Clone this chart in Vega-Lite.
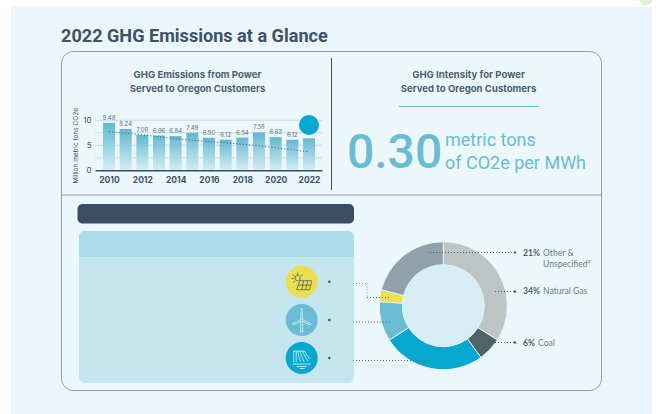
{
"$schema":"https://vega.github.io/schema/vega-lite/v6.json",
"width":656,"height":414,"padding":0,"autosize":"none","background":"#ffffff",
"config":{"view":{"stroke":null},"font":"Inter"},
"datasets":{
"one":[{"note":"decor"}],
"emissions":[
{"year":2010,"mt":9.48,"trend":7.74},{"year":2011,"mt":8.24,"trend":7.4},{"year":2012,"mt":7.08,"trend":7.1},{"year":2013,"mt":6.96,"trend":6.7},{"year":2014,"mt":6.84,"trend":6.3},{"year":2015,"mt":7.49,"trend":6.0},{"year":2016,"mt":6.5,"trend":5.75},{"year":2017,"mt":6.12,"trend":5.5},{"year":2018,"mt":6.54,"trend":5.2},{"year":2019,"mt":7.58,"trend":4.9},{"year":2020,"mt":6.63,"trend":4.5},{"year":2021,"mt":6.12,"trend":4.1},{"year":2022,"mt":6.4,"trend":3.7}],
"grid":[{"g":2.5},{"g":5},{"g":7.5},{"g":10}],
"mix":[
{"source":"Natural Gas","pct":34,"o":1},{"source":"Coal","pct":6,"o":2},{"source":"Hydro","pct":26,"o":3},{"source":"Wind","pct":10,"o":4},{"source":"Solar","pct":3,"o":5},{"source":"Other & Unspecified","pct":21,"o":6}]
},
"data":{"name":"one"},
"resolve":{"scale":{"x":"independent","y":"independent","theta":"independent","color":"independent"}},
"layer":[
{"mark":{"type":"arc","radius":6.5,"theta":0,"theta2":6.2832,"x":646,"y":-1,"fill":"#e4f0d2"},"encoding":{}},
{"mark":{"type":"rect","x":11,"x2":652,"y":7,"y2":414,"fill":"#eaf6fc"},"encoding":{}},
{"mark":{"type":"rect","x":61.5,"x2":601.5,"y":51.5,"y2":390.5,"fill":"#ecf7fc","stroke":"#8d9fab","strokeWidth":1,"cornerRadius":12},"encoding":{}},
{"mark":{"type":"rule","stroke":"#8d9fab","strokeWidth":1},"encoding":{"x":{"value":61.5},"x2":{"value":601.5},"y":{"value":195},"y2":{"value":195}}},
{"mark":{"type":"rule","stroke":"#3d5266","strokeWidth":1},"encoding":{"x":{"value":331.5},"x2":{"value":331.5},"y":{"value":58},"y2":{"value":190}}},
{"mark":{"type":"text","x":61,"y":37,"text":"2022 GHG Emissions at a Glance","align":"left","baseline":"middle","fontSize":18.1,"fontWeight":700,"fill":"#3d5266","font":"Roboto"},"encoding":{}},
{"mark":{"type":"text","x":197.5,"y":75,"text":"GHG Emissions from Power","align":"center","baseline":"middle","fontSize":9.6,"fontWeight":700,"fill":"#4a5f72"},"encoding":{}},
{"mark":{"type":"text","x":197.5,"y":89,"text":"Served to Oregon Customers","align":"center","baseline":"middle","fontSize":9.6,"fontWeight":700,"fill":"#4a5f72"},"encoding":{}},
{"mark":{"type":"text","x":468.5,"y":75,"text":"GHG Intensity for Power","align":"center","baseline":"middle","fontSize":9.6,"fontWeight":700,"fill":"#4a5f72"},"encoding":{}},
{"mark":{"type":"text","x":468.5,"y":89,"text":"Served to Oregon Customers","align":"center","baseline":"middle","fontSize":9.6,"fontWeight":700,"fill":"#4a5f72"},"encoding":{}},
{"mark":{"type":"rule","stroke":"#68bdd5","strokeWidth":1},"encoding":{"x":{"value":399},"x2":{"value":539},"y":{"value":106.5},"y2":{"value":106.5}}},
{"mark":{"type":"text","x":347,"y":168,"text":"0.30","align":"left","baseline":"alphabetic","fontSize":48,"fontWeight":500,"fill":"#68bdd5","font":"Roboto"},"encoding":{}},
{"mark":{"type":"text","x":445,"y":146,"text":"metric tons","align":"left","baseline":"alphabetic","fontSize":18,"fontWeight":400,"fill":"#68bdd5","font":"Roboto"},"encoding":{}},
{"mark":{"type":"text","x":445,"y":169,"text":"of CO2e per MWh","align":"left","baseline":"alphabetic","fontSize":18,"fontWeight":400,"fill":"#68bdd5","font":"Roboto"},"encoding":{}},
{"mark":{"type":"rect","x":77.5,"x2":354,"y":204,"y2":223.5,"fill":"#3a4f63","cornerRadius":5},"encoding":{}},
{"mark":{"type":"rect","x":79,"x2":354,"y":231,"y2":383,"fill":"#c5e6ef","cornerRadius":6},"encoding":{}},
{"mark":{"type":"rect","x":79,"x2":354,"y":231,"y2":257,"fill":"#abdbe8","cornerRadiusTopLeft":6,"cornerRadiusTopRight":6},"encoding":{}},
{"data":{"name":"grid"},"mark":{"type":"rule","stroke":"#c6dde6","strokeWidth":1},
  "encoding":{
   "y":{"field":"g","type":"quantitative","scale":{"domain":[0,10],"range":[170.3,120.3]},"axis":null},
   "x":{"datum":2009.16,"type":"quantitative","scale":{"domain":[2009.16,2022.78],"range":[95,322],"nice":false,"zero":false},"axis":null},
   "x2":{"datum":2022.78}}},
{"data":{"name":"emissions"},
 "encoding":{
   "x":{"field":"year","type":"quantitative","scale":{"domain":[2009.16,2022.78],"range":[95,322],"nice":false,"zero":false,"padding":0},
     "axis":{"orient":"bottom","offset":-243.7,"zindex":1,"title":null,"values":[2010,2012,2014,2016,2018,2020,2022],"format":"d","grid":false,"ticks":false,"labelFontSize":8.5,"labelFontWeight":700,"labelColor":"#3d5266","labelPadding":5,"labelFont":"Inter","domainColor":"#3a4f63","domainWidth":1.5,"labelFlush":false,"labelOverlap":false}},
   "y":{"field":"mt","type":"quantitative","scale":{"domain":[0,10],"range":[170.3,120.3]},
     "axis":{"orient":"left","offset":-95,"zindex":1,"title":"Million metric tons CO2e","titleFontSize":6.5,"titleFontWeight":400,"titleColor":"#3d5266","titleFont":"Inter","titlePadding":4,"values":[0,5,10],"grid":false,"ticks":false,"domain":false,"labelFontSize":8,"labelColor":"#3d5266","labelPadding":4,"labelFont":"Inter"}}},
 "layer":[
 {"mark":{"type":"bar","width":12,"fill":{"x1":0,"y1":0,"x2":0,"y2":1,"gradient":"linear","stops":[{"offset":0,"color":"#62b8d0"},{"offset":1,"color":"#d6edf4"}]}}},
 {"transform":[{"filter":"datum.year < 2022"}],"mark":{"type":"text","baseline":"bottom","dy":-2,"fontSize":6,"fill":"#5c7080","font":"Inter"},
  "encoding":{"text":{"field":"mt","type":"quantitative","format":".2f"}}},
 {"mark":{"type":"line","stroke":"#3d5266","strokeWidth":1,"strokeDash":[1,2.2]},
  "encoding":{"y":{"field":"trend","type":"quantitative","scale":{"domain":[0,10],"range":[170.3,120.3]},
     "axis":{"orient":"left","offset":-95,"zindex":1,"title":"Million metric tons CO2e","titleFontSize":6.5,"titleFontWeight":400,"titleColor":"#3d5266","titleFont":"Inter","titlePadding":4,"values":[0,5,10],"grid":false,"ticks":false,"domain":false,"labelFontSize":8,"labelColor":"#3d5266","labelPadding":4,"labelFont":"Inter"}}}}
]},
{"mark":{"type":"arc","radius":10,"theta":0,"theta2":6.2832,"x":309,"y":125,"fill":"#06a8cf"},"encoding":{}},
{"data":{"name":"mix"},"mark":{"type":"arc","radius":64,"radius2":41,"x":443.3,"y":305.7,"stroke":"#e6f5fa","strokeWidth":1},
 "encoding":{
  "theta":{"field":"pct","type":"quantitative","stack":true},
  "order":{"field":"o","type":"quantitative"},
  "color":{"field":"source","type":"nominal","legend":null,"scale":{"domain":["Natural Gas","Coal","Hydro","Wind","Solar","Other & Unspecified"],"range":["#bcc5c3","#4d6469","#06a8cf","#68bdd5","#ecdf4d","#8fa2aa"]}}}},
{"mark":{"type":"arc","radius":41,"theta":0,"theta2":6.2832,"x":443.3,"y":305.7,"fill":"#d8eef5"},"encoding":{}},
{"mark":{"type":"rule","stroke":"#4d6070","strokeDash":[1,2]},"encoding":{"x":{"value":430},"x2":{"value":515},"y":{"value":252.5},"y2":{"value":252.5}}},
{"mark":{"type":"rule","stroke":"#4d6070","strokeDash":[1,2]},"encoding":{"x":{"value":495},"x2":{"value":515},"y":{"value":291.5},"y2":{"value":291.5}}},
{"mark":{"type":"rule","stroke":"#4d6070","strokeDash":[1,2]},"encoding":{"x":{"value":495},"x2":{"value":515},"y":{"value":342.5},"y2":{"value":342.5}}},
{"mark":{"type":"rule","stroke":"#7f919c","strokeDash":[1,2]},"encoding":{"x":{"value":353},"x2":{"value":367},"y":{"value":283.5},"y2":{"value":283.5}}},
{"mark":{"type":"rule","stroke":"#7f919c","strokeDash":[1,2]},"encoding":{"x":{"value":367},"x2":{"value":367},"y":{"value":283.5},"y2":{"value":297.5}}},
{"mark":{"type":"rule","stroke":"#5c6f7e","strokeDash":[1,2]},"encoding":{"x":{"value":367},"x2":{"value":390},"y":{"value":297.5},"y2":{"value":297.5}}},
{"mark":{"type":"rule","stroke":"#5c6f7e","strokeDash":[1,2]},"encoding":{"x":{"value":353},"x2":{"value":390},"y":{"value":322},"y2":{"value":322}}},
{"mark":{"type":"rule","stroke":"#5c6f7e","strokeDash":[1,2]},"encoding":{"x":{"value":353},"x2":{"value":430},"y":{"value":360.5},"y2":{"value":360.5}}},
{"mark":{"type":"point","shape":"M0,-1.5 L1.5,1.5 L-1.5,1.5 Z","size":4,"x":515,"y":252,"fill":"#3d5266","filled":true,"opacity":1},"encoding":{}},
{"mark":{"type":"point","shape":"M0,-1.5 L1.5,1.5 L-1.5,1.5 Z","size":4,"x":515,"y":291,"fill":"#3d5266","filled":true,"opacity":1},"encoding":{}},
{"mark":{"type":"point","shape":"M0,-1.5 L1.5,1.5 L-1.5,1.5 Z","size":4,"x":515,"y":342,"fill":"#3d5266","filled":true,"opacity":1},"encoding":{}},
{"mark":{"type":"text","x":523,"y":253,"text":"21%","align":"left","baseline":"middle","fontSize":8.6,"fontWeight":700,"fill":"#4a5f72","font":"Lato"},"encoding":{}},
{"mark":{"type":"text","x":543,"y":253,"text":"Other &","align":"left","baseline":"middle","fontSize":8.6,"fill":"#6a7d8b","font":"Lato"},"encoding":{}},
{"mark":{"type":"text","x":543,"y":264,"text":"Unspecified²","align":"left","baseline":"middle","fontSize":8.6,"fill":"#6a7d8b","font":"Lato"},"encoding":{}},
{"mark":{"type":"text","x":523,"y":291,"text":"34%","align":"left","baseline":"middle","fontSize":8.6,"fontWeight":700,"fill":"#4a5f72","font":"Lato"},"encoding":{}},
{"mark":{"type":"text","x":543,"y":291,"text":"Natural Gas","align":"left","baseline":"middle","fontSize":8.6,"fill":"#6a7d8b","font":"Lato"},"encoding":{}},
{"mark":{"type":"text","x":523,"y":343,"text":"6%","align":"left","baseline":"middle","fontSize":8.6,"fontWeight":700,"fill":"#4a5f72","font":"Lato"},"encoding":{}},
{"mark":{"type":"text","x":538,"y":343,"text":"Coal","align":"left","baseline":"middle","fontSize":8.6,"fill":"#6a7d8b","font":"Lato"},"encoding":{}},
{"mark":{"type":"arc","radius":16,"theta":0,"theta2":6.2832,"x":301.7,"y":281.7,"fill":"#ecdf4d"},"encoding":{}},
{"mark":{"type":"arc","radius":16,"theta":0,"theta2":6.2832,"x":301.7,"y":320,"fill":"#68bdd5"},"encoding":{}},
{"mark":{"type":"arc","radius":16,"theta":0,"theta2":6.2832,"x":301.7,"y":358,"fill":"#06a8cf"},"encoding":{}},
{"mark":{"type":"point","size":6,"filled":true,"x":329.3,"y":281.7,"fill":"#3a4f63","opacity":1},"encoding":{}},
{"mark":{"type":"point","size":6,"filled":true,"x":329.3,"y":320,"fill":"#3a4f63","opacity":1},"encoding":{}},
{"mark":{"type":"point","size":6,"filled":true,"x":329.3,"y":358,"fill":"#3a4f63","opacity":1},"encoding":{}},
{"mark":{"type":"point","size":4,"filled":false,"x":301.7,"y":281.7,"stroke":"#3a4f63","strokeWidth":0.7,"opacity":1,"shape":"M-2,-1 L10,-1 L8,8 L-5,8 Z M2,-1 L0,8 M6,-1 L4,8 M-3.5,3.5 L9,3.5 M-6.5,-3.5 C-6.5,-7.5 -1.5,-7.5 -1.5,-3.5 C-1.5,-2 -3,-1 -4,-1 C-5.5,-1 -6.5,-2 -6.5,-3.5 M-4,-6.5 L-4,-9 M-7,-5.5 L-9,-7 M-7.5,-3 L-10,-3 M-6.5,-1 L-8.5,1 M-1,-5.5 L1,-7"},"encoding":{}},
{"mark":{"type":"point","size":4,"filled":false,"x":301.7,"y":320,"stroke":"#e4f4f9","strokeWidth":0.7,"opacity":1,"shape":"M-0.8,1 L-1.2,12 L1.2,12 L0.8,1 M-1,-2 L0,-12 L1,-2 M-0.9,-0.4 L-9,3.5 L-8,5 L-0.2,1 M0.9,-0.4 L9,3.5 L8,5 L0.2,1 M-1,-1 C-1,-2.2 1,-2.2 1,-1 C1,0.2 -1,0.2 -1,-1"},"encoding":{}},
{"mark":{"type":"point","size":4,"filled":false,"x":301.7,"y":358,"stroke":"#ffffff","strokeWidth":0.7,"opacity":1,"shape":"M-8,4 L-8,-7 L-5.5,-7 L-5.5,4 M-5.5,-7 L3,-7 M-4,-7 C-3,-1 -2,2 -1,4 M-1.5,-7 C-0.5,-2 1,1 2.5,4 M1,-7 C2,-3 4,-1 6,3 M3,-7 C4,-4 6,-2 8,1 M-9,6 L9,6 M-5,8.5 L5,8.5 M-2,10.5 L3,10.5"},"encoding":{}}
]
}
